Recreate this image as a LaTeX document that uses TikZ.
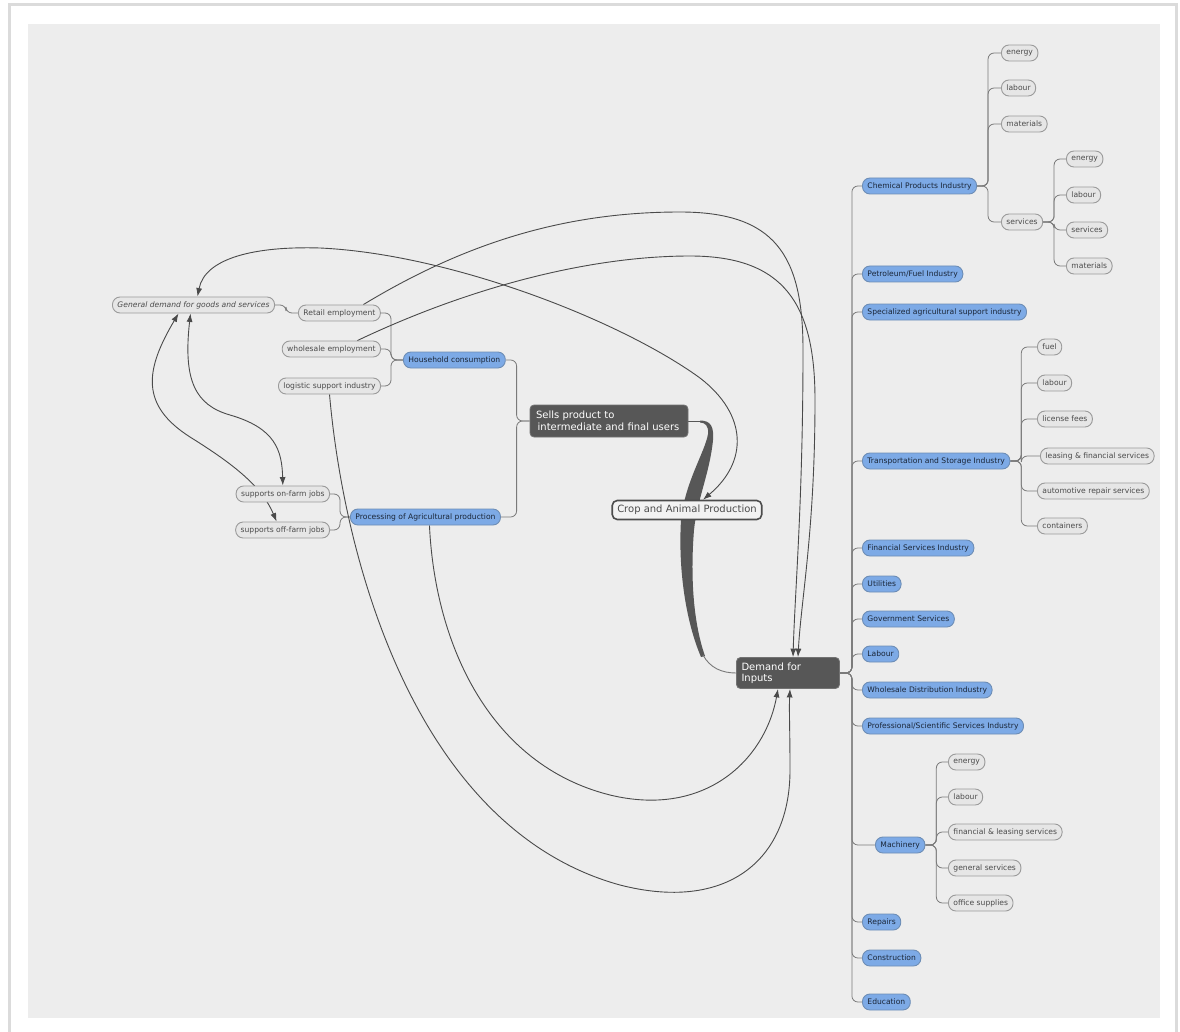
\documentclass[tikz,border=0pt]{standalone}
\usepackage{fontspec}
\setmainfont{DejaVu Sans}
\usetikzlibrary{arrows.meta,calc}
\pgfdeclarelayer{bg}
\pgfdeclarelayer{lines}
\pgfsetlayers{bg,lines,main}
\definecolor{panel}{HTML}{EDEDED}
\definecolor{bluefill}{HTML}{7DAAE6}
\definecolor{blueedge}{HTML}{6D8DB5}
\definecolor{bluetext}{HTML}{1A2638}
\definecolor{leaffill}{HTML}{E6E6E6}
\definecolor{leafedge}{HTML}{9A9A9A}
\definecolor{leaftext}{HTML}{4A4A4A}
\definecolor{darkfill}{HTML}{575757}
\definecolor{treeline}{HTML}{7A7A7A}
\definecolor{linkline}{HTML}{4A4A4A}
\tikzset{
 pill/.style={rounded corners=7.5pt, minimum height=16pt, inner xsep=5pt, inner ysep=2pt, font=\fontsize{7.6}{9}\selectfont, line width=0.9pt},
 bluebox/.style={pill, fill=bluefill, draw=blueedge, text=bluetext},
 leafbox/.style={pill, fill=leaffill, draw=leafedge, text=leaftext},
 genbox/.style={leafbox, font=\fontsize{7.6}{9}\selectfont\itshape},
 darkbox/.style={rounded corners=4pt, fill=darkfill, draw=black!55, text=white, align=left, font=\fontsize{10}{11.5}\selectfont, line width=0.8pt},
 cropbox/.style={rounded corners=5pt, fill=white!95!black, draw=black!70, line width=1.6pt, text=black!70, font=\fontsize{10}{12}\selectfont, minimum height=19pt, inner xsep=5pt},
 tree/.style={draw=treeline, line width=0.8pt, rounded corners=6pt},
 xlink/.style={draw=linkline, line width=0.9pt, -{Latex[length=8.5pt,width=6pt]}},
 xlinkb/.style={draw=linkline, line width=0.9pt, {Latex[length=8.5pt,width=6pt]}-{Latex[length=8.5pt,width=6pt]}},
}
\newcommand\brR[3]{\path[tree] (#1.east) -- ++(#3,0) |- (#2.west);}
\newcommand\brL[3]{\path[tree] (#1.west) -- ++(-#3,0) |- (#2.east);}
\begin{document}
\begin{tikzpicture}[x=1pt,y=-1pt]
\useasboundingbox (0,0) rectangle (1180,1032);
\begin{pgfonlayer}{bg}
\fill[white] (0,0) rectangle (1180,1032);
\fill[black!14] (8,3) rectangle (1178,1032);
\fill[white] (11,6) rectangle (1175,1032);
\fill[panel] (28,24) rectangle (1160,1018);
\end{pgfonlayer}

% central nodes
\node[darkbox, minimum width=158pt, minimum height=32pt, text width=146pt, inner xsep=6pt] (sells) at (609,421) {Sells product to\\ \,intermediate and final users};
\node[cropbox] (crop) at (687,510) {Crop and Animal Production};
\node[darkbox, minimum width=103pt, minimum height=31pt, text width=93pt, inner xsep=5pt] (dem) at (788,673) {Demand for\\Inputs};

% right blue nodes
\node[bluebox, anchor=west] (cpi) at (862,186) {Chemical Products Industry};
\node[bluebox, anchor=west] (pfi) at (862,274) {Petroleum/Fuel Industry};
\node[bluebox, anchor=west] (sas) at (862,312) {Specialized agricultural support industry};
\node[bluebox, anchor=west] (tsi) at (862,461) {Transportation and Storage Industry};
\node[bluebox, anchor=west] (fsi) at (862,548) {Financial Services Industry};
\node[bluebox, anchor=west] (uti) at (862,584) {Utilities};
\node[bluebox, anchor=west] (gov) at (862,619) {Government Services};
\node[bluebox, anchor=west] (lab) at (862,654) {Labour};
\node[bluebox, anchor=west] (wdi) at (862,690) {Wholesale Distribution Industry};
\node[bluebox, anchor=west] (pss) at (862,726) {Professional/Scientific Services Industry};
\node[bluebox, anchor=west] (mac) at (875,845) {Machinery};
\node[bluebox, anchor=west] (rep) at (862,922) {Repairs};
\node[bluebox, anchor=west] (cns) at (862,958) {Construction};
\node[bluebox, anchor=west] (edu) at (862,1002) {Education};

% chemical leaves
\node[leafbox, anchor=west] (c1) at (1001,53) {energy};
\node[leafbox, anchor=west] (c2) at (1001,88) {labour};
\node[leafbox, anchor=west] (c3) at (1001,124) {materials};
\node[leafbox, anchor=west] (c4) at (1001,222) {services};
\node[leafbox, anchor=west] (s1) at (1066,159) {energy};
\node[leafbox, anchor=west] (s2) at (1066,195) {labour};
\node[leafbox, anchor=west] (s3) at (1066,230) {services};
\node[leafbox, anchor=west] (s4) at (1066,266) {materials};

% transport leaves
\node[leafbox, anchor=west] (t1) at (1037,347) {fuel};
\node[leafbox, anchor=west] (t2) at (1037,383) {labour};
\node[leafbox, anchor=west] (t3) at (1037,419) {license fees};
\node[leafbox, anchor=west] (t4) at (1040,456) {leasing \& financial services};
\node[leafbox, anchor=west] (t5) at (1037,491) {automotive repair services};
\node[leafbox, anchor=west] (t6) at (1037,526) {containers};

% machinery leaves
\node[leafbox, anchor=west] (m1) at (948,762) {energy};
\node[leafbox, anchor=west] (m2) at (948,797) {labour};
\node[leafbox, anchor=west] (m3) at (948,832) {financial \& leasing services};
\node[leafbox, anchor=west] (m4) at (948,868) {general services};
\node[leafbox, anchor=west] (m5) at (948,903) {office supplies};

% left side
\node[bluebox, anchor=west] (hh) at (403,360) {Household consumption};
\node[bluebox, anchor=west] (pro) at (350,517) {Processing of Agricultural production};
\node[leafbox, anchor=west] (ret) at (298,313) {Retail employment};
\node[leafbox, anchor=east] (whs) at (381,349) {wholesale employment};
\node[leafbox, anchor=east] (lgs) at (381,386) {logistic support industry};
\node[genbox, anchor=east] (gen) at (275,305) {General demand for goods and services};
\node[leafbox, anchor=east] (onf) at (330,494) {supports on-farm jobs};
\node[leafbox, anchor=east] (off) at (330,530) {supports off-farm jobs};

\begin{pgfonlayer}{lines}
% tree branches right
\foreach \c in {cpi,pfi,sas,tsi,fsi,uti,gov,lab,wdi,pss,mac,rep,cns,edu}{\brR{dem}{\c}{12}}
\foreach \c in {c1,c2,c3,c4}{\brR{cpi}{\c}{11}}
\foreach \c in {s1,s2,s3,s4}{\brR{c4}{\c}{11}}
\foreach \c in {t1,t2,t3,t4,t5,t6}{\brR{tsi}{\c}{11}}
\foreach \c in {m1,m2,m3,m4,m5}{\brR{mac}{\c}{11}}
% tree branches left
\brL{sells}{hh}{13}
\brL{sells}{pro}{13}
\foreach \c in {ret,whs,lgs}{\brL{hh}{\c}{12}}
\brL{ret}{gen}{12}
\foreach \c in {onf,off}{\brL{pro}{\c}{10}}

% thick tapered branch from Sells to Demand for Inputs
\draw[darkfill, line width=1pt] (sells.east) -- (700,421);
\fill[darkfill] (700,420.5) .. controls (711,420.5) and (714,427) .. (713,440)
  .. controls (710,472) and (697,500) .. (694,530)
  .. controls (690,580) and (694,625) .. (705,656) -- (701,657)
  .. controls (686,622) and (678,570) .. (681,520)
  .. controls (685,482) and (705,452) .. (708,434)
  .. controls (709,426) and (705,422.5) .. (700,422.5) -- cycle;
\draw[treeline, line width=0.9pt] (703,655) .. controls (710,668) and (722,673) .. (dem.west);

% cross links
\draw[xlink] ([xshift=24pt]ret.north) .. controls (470,240) and (570,212) .. (680,212)
  .. controls (775,212) and (803,255) .. (803,350)
  .. controls (803,500) and (795,590) .. ([xshift=5pt]dem.north);
\draw[xlink] ([xshift=26pt]whs.north) .. controls (470,287) and (590,256) .. (690,256)
  .. controls (785,256) and (815,305) .. (815,400)
  .. controls (815,530) and (801,600) .. ([xshift=10pt]dem.north);
\draw[xlinkb] ([xshift=4pt]gen.north) .. controls (205,258) and (255,246) .. (320,248)
  .. controls (450,254) and (620,320) .. (700,378)
  .. controls (748,415) and (748,462) .. ([xshift=16pt]crop.north);
\draw[xlinkb] ([xshift=-3pt]gen.south) .. controls (183,380) and (195,405) .. (230,415)
  .. controls (275,428) and (282,450) .. (onf.north);
\draw[xlinkb] ([xshift=-15pt]gen.south) .. controls (145,370) and (140,405) .. (190,437)
  .. controls (235,465) and (262,487) .. ([xshift=-6pt]off.north);
\draw[xlink] ([xshift=4pt]pro.south) .. controls (435,645) and (490,765) .. (610,795)
  .. controls (705,818) and (765,760) .. ([xshift=-10pt]dem.south);
\draw[xlink] (lgs.south) .. controls (345,570) and (420,830) .. (620,885)
  .. controls (725,912) and (790,862) .. (790,770)
  .. controls (790,730) and (789,710) .. ([xshift=2pt]dem.south);
\end{pgfonlayer}
\end{tikzpicture}
\end{document}
